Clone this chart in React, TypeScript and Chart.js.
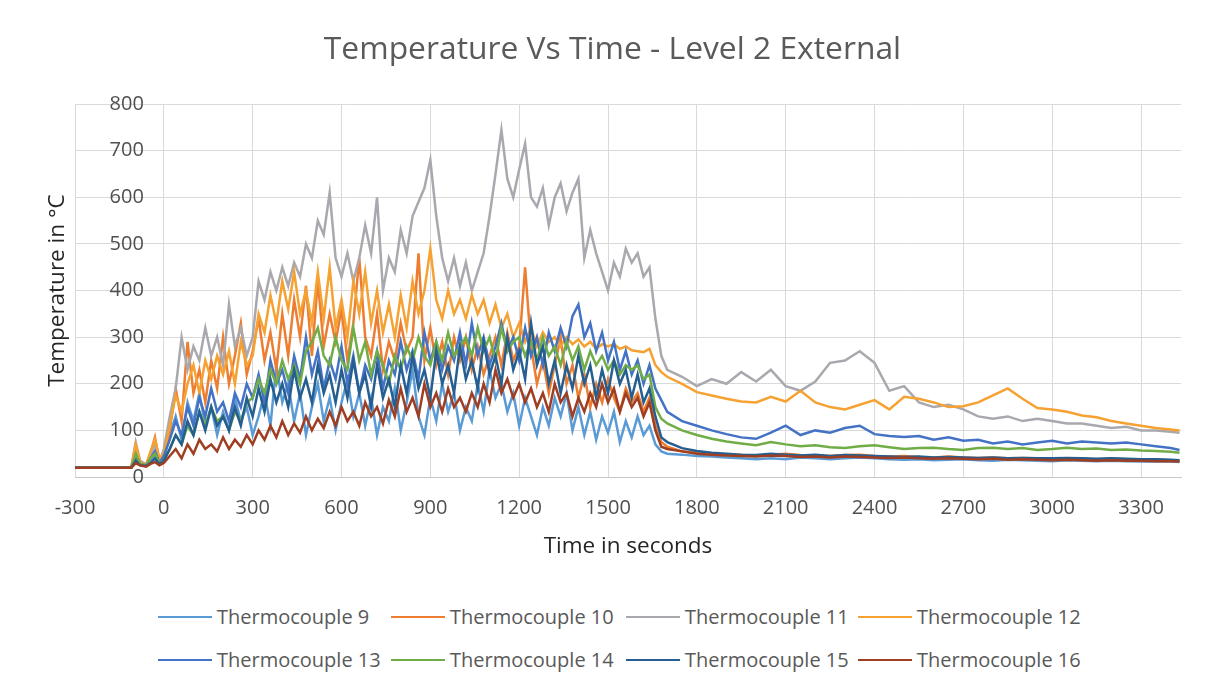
import React, { useEffect, useRef } from "react";
import { Chart, registerables } from "chart.js";

Chart.register(...registerables);

// ---------- data ----------
const times = [
  -300, -200, -110, -95, -80, -60, -45, -30, -15,
  0, 20, 40, 60, 80, 100, 120, 140, 160, 180,
  200, 220, 240, 260, 280, 300, 320, 340, 360, 380,
  400, 420, 440, 460, 480, 500, 520, 540, 560, 580,
  600, 620, 640, 660, 680, 700, 720, 740, 760, 780,
  800, 820, 840, 860, 880, 900, 920, 940, 960, 980,
  1000, 1020, 1040, 1060, 1080, 1100, 1120, 1140, 1160, 1180,
  1200, 1220, 1240, 1260, 1280, 1300, 1320, 1340, 1360, 1380,
  1400, 1420, 1440, 1460, 1480, 1500, 1520, 1540, 1560, 1580,
  1600, 1620, 1640, 1660, 1680, 1700,
  1750, 1800, 1850, 1900, 1950, 2000, 2050, 2100, 2150, 2200,
  2250, 2300, 2350, 2400, 2450, 2500, 2550, 2600, 2650, 2700,
  2750, 2800, 2850, 2900, 2950, 3000, 3050, 3100, 3150, 3200,
  3250, 3300, 3350, 3400, 3430,
];

const tc9 = [
  20, 20, 20, 40, 28, 25, 35, 45, 30,
  40, 90, 130, 80, 160, 120, 180, 110, 150, 90,
  140, 100, 170, 120, 150, 90, 130, 180, 110, 240,
  160, 200, 120, 180, 90, 150, 200, 120, 170, 100,
  160, 210, 130, 180, 110, 170, 90, 150, 120, 190,
  100, 160, 230, 130, 90, 170, 120, 200, 140, 180,
  100, 150, 120, 200, 140, 230, 170, 200, 140, 180,
  110, 170, 130, 90, 150, 110, 170, 130, 180, 100,
  150, 90, 140, 80, 130, 95, 140, 75, 120, 85,
  130, 90, 110, 70, 55, 50,
  48, 45, 44, 42, 40, 38, 40, 38, 42, 40,
  38, 40, 42, 40, 38, 37, 38, 36, 37, 38,
  36, 35, 37, 36, 35, 34, 36, 35, 34, 35,
  34, 33, 34, 33, 32,
];

const tc10 = [
  20, 20, 21, 55, 30, 26, 50, 85, 35,
  40, 100, 190, 120, 290, 180, 230, 160, 250, 190,
  300, 200, 260, 330, 220, 270, 340, 250, 310, 230,
  350, 260, 380, 300, 410, 260, 420, 280, 350, 290,
  360, 250, 330, 470, 300, 260, 350, 230, 290, 250,
  330, 270, 300, 480, 250, 320, 240, 290, 220, 300,
  250, 300, 230, 280, 220, 260, 300, 240, 310, 250,
  280, 450, 280, 200, 250, 180, 240, 300, 200, 240,
  170, 220, 150, 200, 160, 210, 170, 140, 190, 160,
  180, 140, 170, 110, 75, 65,
  55, 52, 50, 48, 47, 46, 48, 50, 47, 46,
  45, 47, 48, 45, 44, 45, 43, 42, 44, 42,
  41, 42, 40, 41, 40, 39, 40, 39, 38, 39,
  38, 38, 37, 36, 36,
];

const tc11 = [
  20, 20, 21, 75, 35, 27, 45, 70, 32,
  60, 130, 190, 300, 230, 280, 250, 320, 260, 300,
  240, 370, 280, 320, 260, 300, 420, 380, 440, 400,
  450, 410, 460, 430, 500, 470, 550, 520, 610, 470,
  430, 480, 420, 470, 540, 480, 600, 400, 470, 440,
  530, 480, 560, 590, 620, 680, 560, 470, 420, 470,
  410, 460, 400, 440, 480, 560, 650, 745, 640, 600,
  660, 715, 600, 580, 620, 540, 600, 630, 570, 610,
  640, 470, 530, 480, 440, 400, 460, 430, 490, 460,
  480, 430, 450, 340, 260, 230,
  215, 195, 210, 200, 225, 205, 230, 195, 185, 205,
  245, 250, 270, 245, 185, 195, 160, 150, 155, 145,
  130, 125, 130, 120, 125, 120, 115, 115, 110, 105,
  108, 100, 100, 97, 95,
];

const tc12 = [
  20, 20, 21, 70, 32, 26, 55, 80, 40,
  50, 110, 175, 140, 200, 240, 180, 250, 210, 260,
  220, 270, 200, 290, 240, 260, 350, 310, 390, 330,
  420, 360, 440, 350, 400, 330, 440, 340, 450, 320,
  380, 300, 420, 350, 440, 330, 400, 310, 370, 300,
  390, 320, 420, 350, 400, 490, 380, 340, 400, 350,
  380, 340, 390, 350, 380, 330, 370, 320, 350, 300,
  330, 290, 320, 280, 310, 290, 300, 280, 300, 285,
  295, 280, 290, 275, 285, 280, 285, 275, 280, 272,
  270, 268, 275, 240, 225, 215,
  200, 182, 175, 168, 162, 160, 172, 162, 185, 160,
  150, 145, 155, 165, 145, 172, 168, 160, 150, 152,
  160, 175, 190, 168, 148, 145, 140, 132, 128, 120,
  115, 110, 105, 102, 100,
];

const tc13 = [
  20, 20, 20, 45, 28, 25, 40, 55, 30,
  45, 80, 120, 90, 150, 110, 170, 130, 190, 140,
  160, 120, 180, 150, 200, 170, 220, 160, 250, 200,
  230, 180, 260, 210, 300, 220, 270, 190, 250, 210,
  280, 200, 260, 180, 240, 210, 270, 190, 250, 220,
  290, 230, 270, 210, 310, 250, 290, 230, 280, 250,
  310, 240, 330, 260, 300, 240, 280, 330, 270, 300,
  250, 320, 260, 300, 240, 310, 270, 320, 280, 345,
  370, 300, 330, 270, 310, 250, 290, 230, 270, 220,
  250, 200, 240, 190, 165, 140,
  120, 110, 100, 92, 85, 82, 95, 110, 90, 100,
  95, 105, 110, 92, 88, 86, 88, 80, 85, 78,
  80, 72, 76, 70, 74, 78, 72, 76, 74, 72,
  74, 70, 66, 62, 58,
];

const tc14 = [
  20, 20, 20, 50, 28, 25, 40, 50, 30,
  35, 60, 90, 70, 110, 90, 140, 110, 150, 120,
  130, 100, 140, 120, 160, 170, 210, 180, 230, 200,
  250, 210, 240, 200, 270, 290, 320, 260, 240, 300,
  250, 230, 320, 250, 290, 220, 270, 240, 200, 260,
  230, 280, 250, 300, 260, 240, 290, 250, 310, 260,
  280, 300, 260, 320, 270, 300, 250, 320, 270, 290,
  300, 260, 290, 250, 300, 260, 280, 240, 290, 250,
  280, 230, 270, 240, 260, 230, 250, 220, 240, 230,
  240, 210, 220, 150, 125, 115,
  100, 90, 82, 76, 72, 68, 75, 70, 66, 68,
  64, 62, 66, 68, 64, 60, 62, 63, 60, 58,
  62, 63, 60, 62, 58, 60, 63, 60, 61, 58,
  59, 57, 56, 54, 52,
];

const tc15 = [
  20, 20, 20, 35, 25, 24, 30, 40, 28,
  35, 60, 90, 70, 120, 90, 140, 100, 150, 110,
  130, 100, 150, 110, 170, 130, 190, 140, 210, 160,
  200, 150, 230, 170, 210, 160, 240, 180, 220, 160,
  230, 170, 250, 180, 220, 150, 240, 170, 210, 150,
  240, 180, 260, 190, 230, 170, 270, 200, 240, 180,
  280, 210, 250, 190, 290, 220, 260, 200, 300, 230,
  270, 210, 330, 240, 280, 200, 250, 180, 240, 190,
  260, 200, 240, 170, 230, 180, 250, 200, 230, 170,
  220, 160, 190, 130, 85, 75,
  62, 56, 52, 50, 48, 47, 50, 48, 46, 48,
  45, 47, 46, 45, 44, 43, 44, 42, 43, 42,
  41, 42, 40, 41, 40, 40, 41, 40, 39, 40,
  39, 38, 38, 37, 36,
];

const tc16 = [
  20, 20, 20, 30, 25, 22, 28, 32, 25,
  30, 45, 60, 40, 70, 50, 80, 60, 70, 55,
  85, 60, 80, 65, 90, 70, 100, 80, 110, 85,
  120, 90, 115, 95, 130, 100, 125, 105, 140, 110,
  150, 120, 140, 110, 160, 130, 150, 115, 165, 130,
  190, 140, 170, 130, 200, 150, 180, 140, 190, 150,
  170, 140, 180, 150, 200, 160, 230, 180, 210, 170,
  200, 160, 190, 150, 180, 140, 200, 160, 180, 130,
  170, 140, 180, 150, 200, 160, 190, 140, 180, 150,
  170, 130, 160, 100, 65, 60,
  55, 50, 48, 46, 45, 44, 46, 45, 43, 44,
  42, 44, 43, 42, 41, 42, 40, 39, 40, 39,
  38, 39, 37, 38, 37, 36, 37, 36, 35, 36,
  35, 35, 34, 34, 33,
];

const seriesNames = [
  "Thermocouple 9",
  "Thermocouple 10",
  "Thermocouple 11",
  "Thermocouple 12",
  "Thermocouple 13",
  "Thermocouple 14",
  "Thermocouple 15",
  "Thermocouple 16",
];
const seriesValues = [tc9, tc10, tc11, tc12, tc13, tc14, tc15, tc16];
const seriesColors = [
  "#5B9BD5",
  "#ED7D31",
  "#A8A8AE",
  "#F5A232",
  "#4472C4",
  "#70AD47",
  "#255E91",
  "#9E3E22",
];

const xTicks = [-300, 0, 300, 600, 900, 1200, 1500, 1800, 2100, 2400, 2700, 3000, 3300];
const yTicks = [0, 100, 200, 300, 400, 500, 600, 700, 800];

const TITLE = "Temperature Vs Time - Level 2 External";
const X_TITLE = "Time in seconds";
const Y_TITLE = "Temperature in °C";

// ---------- styles ----------
const FONT = "'Open Sans', 'DejaVu Sans', sans-serif";
const TICK_COLOR = "#4f4f4f";
const TITLE_COLOR = "#5a5a5a";
const AXIS_TITLE_COLOR = "#262626";
const GRID_COLOR = "#DADADA";
const TICK_SIZE = 20;

const legendTextX = [217, 450, 685, 917];
const legendRowY = [617, 660];

const yLabelsPlugin = {
  id: "yLabelsAtZero",
  afterDatasetsDraw(chart: any) {
    const { ctx, scales } = chart;
    const x0 = scales.x.getPixelForValue(0);
    ctx.save();
    ctx.font = `${TICK_SIZE}px ${FONT}`;
    ctx.fillStyle = TICK_COLOR;
    ctx.textAlign = "right";
    ctx.textBaseline = "middle";
    for (const v of yTicks) {
      ctx.fillText(String(v), x0 - 20, scales.y.getPixelForValue(v));
    }
    ctx.restore();
  },
};

export default function App() {
  const canvasRef = useRef<HTMLCanvasElement | null>(null);

  useEffect(() => {
    if (!canvasRef.current) return;
    const datasets = seriesNames.map((name, i) => ({
      label: name,
      data: times.map((t, j) => ({ x: t, y: seriesValues[i][j] })),
      borderColor: seriesColors[i],
      backgroundColor: seriesColors[i],
      borderWidth: 2.5,
      pointRadius: 0,
      tension: 0,
      fill: false,
      order: seriesNames.length - i,
    }));

    const chart = new Chart(canvasRef.current, {
      type: "line",
      data: { datasets },
      options: {
        animation: false,
        responsive: true,
        maintainAspectRatio: false,
        layout: { padding: { left: 44, right: 47, top: 0, bottom: 130.5 } },
        plugins: {
          legend: { display: false },
          tooltip: { enabled: false },
          title: {
            display: true,
            text: TITLE,
            color: TITLE_COLOR,
            font: { family: FONT, size: 31.8, weight: "normal" },
            padding: { top: 31, bottom: 35 },
          },
        },
        scales: {
          x: {
            type: "linear",
            min: -300,
            max: 3435,
            afterBuildTicks: (scale: any) => {
              scale.ticks = xTicks.map((v) => ({ value: v }));
            },
            ticks: {
              color: TICK_COLOR,
              font: { family: FONT, size: TICK_SIZE },
              padding: 19,
              maxRotation: 0,
              autoSkip: false,
              callback: (v: any) => String(v),
            },
            grid: { color: GRID_COLOR, drawTicks: false, lineWidth: 1 },
            border: { color: "#C8C8C8", width: 1 },
            title: {
              display: true,
              text: X_TITLE,
              color: AXIS_TITLE_COLOR,
              font: { family: FONT, size: 22.5 },
              padding: { top: -5.5, bottom: 0 },
            },
          },
          y: {
            type: "linear",
            min: 0,
            max: 800,
            afterBuildTicks: (scale: any) => {
              scale.ticks = yTicks.map((v) => ({ value: v }));
            },
            ticks: { display: false },
            grid: { color: GRID_COLOR, drawTicks: false, lineWidth: 1 },
            border: { display: false },
            title: {
              display: true,
              text: Y_TITLE,
              color: AXIS_TITLE_COLOR,
              font: { family: FONT, size: 22.5 },
              padding: { top: 0, bottom: 4 },
            },
          },
        },
      },
      plugins: [yLabelsPlugin],
    } as any);

    return () => chart.destroy();
  }, []);

  return (
    <div
      style={{
        position: "fixed",
        left: 0,
        top: 0,
        width: 1228,
        height: 691,
        background: "#ffffff",
        overflow: "hidden",
      }}
    >
      <canvas ref={canvasRef} style={{ position: "absolute", left: 0, top: 0 }} />
      <div style={{ position: "absolute", left: 0, top: 0, width: 1228, height: 691, pointerEvents: "none" }}>
        {seriesNames.map((name, i) => {
          const col = i % 4;
          const row = Math.floor(i / 4);
          const tx = legendTextX[col];
          const cy = legendRowY[row];
          return (
            <React.Fragment key={name}>
              <div
                style={{
                  position: "absolute",
                  left: tx - 59,
                  top: cy - 1.25,
                  width: 54,
                  height: 2.5,
                  background: seriesColors[i],
                  zIndex: 0,
                }}
              />
              <div
                style={{
                  position: "absolute",
                  left: tx,
                  top: cy - 14,
                  height: 28,
                  lineHeight: "28px",
                  fontFamily: FONT,
                  fontSize: TICK_SIZE,
                  color: "#595959",
                  background: "#ffffff",
                  whiteSpace: "nowrap",
                  zIndex: 1,
                  paddingRight: 4,
                }}
              >
                {name}
              </div>
            </React.Fragment>
          );
        })}
      </div>
    </div>
  );
}
